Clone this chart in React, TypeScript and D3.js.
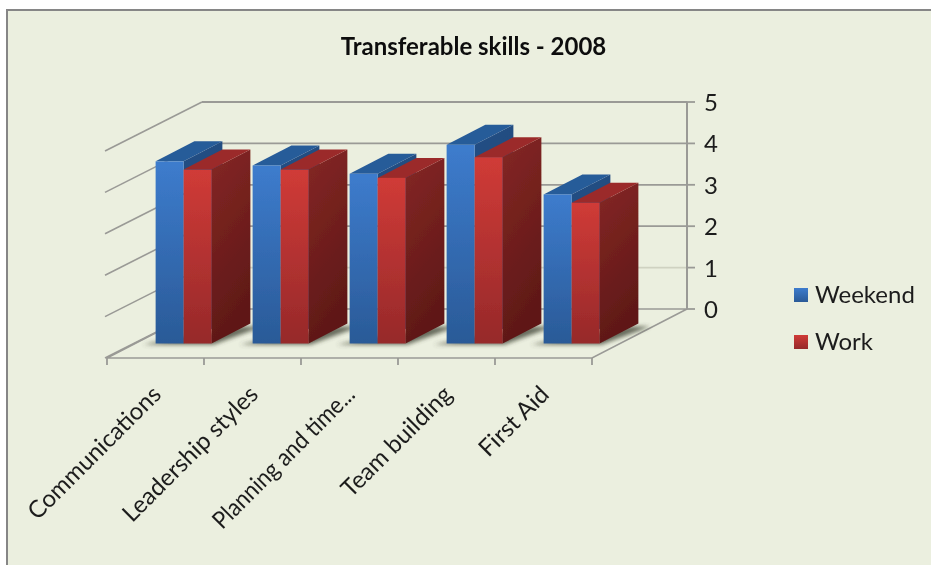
import React, { useEffect, useRef } from "react";
import * as d3 from "d3";

const categories = ["Communications", "Leadership styles", "Planning and time...", "Team building", "First Aid"];
const seriesNames = ["Weekend", "Work"];
const weekend = [4.4, 4.3, 4.1, 4.8, 3.6];
const work = [4.2, 4.2, 4.0, 4.5, 3.4];
const valueTicks = [0, 1, 2, 3, 4, 5];

const faces: Record<string, { top: string; side: string; hi: string; lo: string }> = {
  Weekend: { top: "#285b99", side: "#234f85", hi: "#3d7ccd", lo: "#2a5a97" },
  Work: { top: "#9b2b2a", side: "#7f2522", hi: "#d03b37", lo: "#96292a" },
};

const App = () => {
  const ref = useRef<SVGSVGElement>(null);

  useEffect(() => {
    const svg = d3.select(ref.current);
    svg.selectAll("*").remove();

    const font = "Lato, 'Open Sans', sans-serif";
    const textColor = "#1c1c1c";
    const gridColor = "#9a9a96";

    // floor corners, the rest is projected from them
    const x0 = 107;
    const x1 = 592;
    const floorY = 358;
    const depthX = 95;
    const depthY = -49;
    const unit = 41.4;

    const x = d3.scaleBand<string>().domain(categories).range([x0, x1]);
    const inner = d3.scaleBand<string>().domain(seriesNames).range([20.5, 76.5]);
    const z = d3.scaleLinear().domain([0, 1]).range([0, 1]);
    const h = d3.scaleLinear().domain([0, 5]).range([0, unit * 5]);
    const px = (v: number, d: number) => v + z(d) * depthX;
    const py = (val: number, d: number) => floorY - h(val) + z(d) * depthY;
    const line = d3.line<[number, number]>();
    const poly = (pts: [number, number][]) => line(pts) + "Z";

    const defs = svg.append("defs");
    const grad = (id: string, a: string, b: string, diag = false) => {
      const g = defs.append("linearGradient").attr("id", id)
        .attr("x1", 0).attr("y1", 0).attr("x2", diag ? 0.25 : 0).attr("y2", 1);
      g.append("stop").attr("offset", 0).attr("stop-color", a);
      g.append("stop").attr("offset", 1).attr("stop-color", b);
    };
    grad("front-Weekend", faces.Weekend.hi, faces.Weekend.lo);
    grad("front-Work", faces.Work.hi, faces.Work.lo);
    grad("side-Work", "#852724", "#5e1817", true);
    grad("side-Weekend", "#234f85", "#1f4676", true);
    defs.append("filter").attr("id", "soft").attr("x", "-20%").attr("y", "-60%").attr("width", "140%").attr("height", "220%")
      .append("feGaussianBlur").attr("stdDeviation", 2);
    defs.append("filter").attr("id", "smooth").append("feGaussianBlur").attr("stdDeviation", 0.5);
    defs.append("filter").attr("id", "textSoft").attr("x", "-5%").attr("y", "-5%").attr("width", "110%").attr("height", "110%")
      .append("feGaussianBlur").attr("stdDeviation", 0.3);

    // panel
    svg.append("rect").attr("width", 931).attr("height", 565).attr("fill", "#ffffff");
    svg.append("rect").attr("x", 7).attr("y", 10).attr("width", 930).attr("height", 570)
      .attr("fill", "#ebefdf").attr("stroke", "#868686").attr("stroke-width", 2);

    svg.append("text").attr("x", 473.5).attr("y", 55).attr("text-anchor", "middle")
      .attr("font-family", font).attr("font-size", 24).attr("font-weight", 700).attr("fill", "#111")
      .attr("filter", "url(#textSoft)")
      .text("Transferable skills - 2008");

    const plot = svg.append("g").attr("filter", "url(#smooth)");
    const labels = svg.append("g").attr("filter", "url(#textSoft)");

    // walls and floor
    valueTicks.forEach((t) => {
      const color = t === 1 ? "#cfd2c1" : gridColor;
      plot.append("path").attr("fill", "none").attr("stroke", gridColor).attr("stroke-width", 1.6)
        .attr("d", line([[px(x0, 0) - 2, py(t, 0)], [px(x0, 1), py(t, 1)]]));
      if (t > 0) plot.append("path").attr("fill", "none").attr("stroke", color).attr("stroke-width", 1.8)
        .attr("d", line([[px(x0, 1), py(t, 1)], [px(x1, 1), py(t, 1)]]));
      plot.append("path").attr("fill", "none").attr("stroke", gridColor).attr("stroke-width", 1.8)
        .attr("d", line([[px(x1, 1), py(t, 1)], [px(x1, 1) + 8, py(t, 1)]]));
      labels.append("text").attr("x", px(x1, 1) + 17).attr("y", py(t, 1) + 9).attr("font-family", font)
        .attr("font-size", 24).attr("fill", textColor).text(t);
    });
    plot.append("path").attr("fill", "none").attr("stroke", gridColor).attr("stroke-width", 2)
      .attr("d", line([[px(x1, 1), py(0, 1)], [px(x1, 1), py(5, 1)]]));
    plot.append("path").attr("fill", "none").attr("stroke", gridColor).attr("stroke-width", 1.6)
      .attr("d", poly([[px(x0, 0), py(0, 0)], [px(x1, 0), py(0, 0)], [px(x1, 1), py(0, 1)], [px(x0, 1), py(0, 1)]]));

    // category ticks and labels
    [...categories.map((c) => x(c) as number), x1].forEach((tx) => {
      plot.append("path").attr("stroke", gridColor).attr("stroke-width", 1.8)
        .attr("d", line([[tx, floorY], [tx, floorY + 7]]));
    });
    categories.forEach((c) => {
      const tx = (x(c) as number) + x.bandwidth() / 2;
      const label = labels.append("text").attr("transform", `translate(${tx + 7},${floorY + 38}) rotate(-45)`)
        .attr("text-anchor", "end").attr("font-family", font).attr("font-size", 24).attr("fill", textColor).text(c);
      // the truncated label's dots are narrower in the original font
      if (c.endsWith("...")) label.attr("textLength", 190).attr("lengthAdjust", "spacingAndGlyphs");
    });

    // bars
    const nearZ = 0.296;
    const farZ = 0.704;
    const values: Record<string, number[]> = { Weekend: weekend, Work: work };

    categories.forEach((c) => {
      const gx = x(c) as number;
      const left = gx + inner(seriesNames[0])!;
      const right = gx + inner(seriesNames[1])! + inner.bandwidth();
      plot.append("path").attr("fill", "#45483a").attr("opacity", 0.8).attr("filter", "url(#soft)")
        .attr("d", poly([
          [px(left, nearZ) - 13, py(0, nearZ) + 1],
          [px(right, nearZ) + 2, py(0, nearZ) + 1],
          [px(right, farZ) + 12, py(0, farZ) + 3],
          [px(right, farZ) - 8, py(0, farZ) + 3],
        ]));
    });

    seriesNames.forEach((s) => {
      categories.forEach((c, i) => {
        const a = (x(c) as number) + inner(s)!;
        const b = a + inner.bandwidth();
        const v = values[s][i];
        const g = plot.append("g");
        g.append("path").attr("fill", `url(#side-${s})`)
          .attr("d", poly([[px(b, nearZ), py(0, nearZ)], [px(b, farZ), py(0, farZ)], [px(b, farZ), py(v, farZ)], [px(b, nearZ), py(v, nearZ)]]));
        g.append("path").attr("fill", faces[s].top)
          .attr("d", poly([[px(a, nearZ), py(v, nearZ)], [px(b, nearZ), py(v, nearZ)], [px(b, farZ), py(v, farZ)], [px(a, farZ), py(v, farZ)]]));
        g.append("rect").attr("x", px(a, nearZ)).attr("y", py(v, nearZ))
          .attr("width", inner.bandwidth()).attr("height", h(v)).attr("fill", `url(#front-${s})`);
      });
    });

    // legend
    seriesNames.forEach((s, i) => {
      const ly = 295 + i * 47;
      svg.append("rect").attr("x", 794).attr("y", ly - 7).attr("width", 14).attr("height", 14)
        .attr("fill", `url(#front-${s})`);
      labels.append("text").attr("x", 815).attr("y", ly + 8).attr("font-family", font)
        .attr("font-size", 24).attr("fill", textColor).text(s);
    });
  }, []);

  return (
    <svg ref={ref} width={931} height={565} style={{ position: "absolute", left: 0, top: 0 }} />
  );
};

export default App;
